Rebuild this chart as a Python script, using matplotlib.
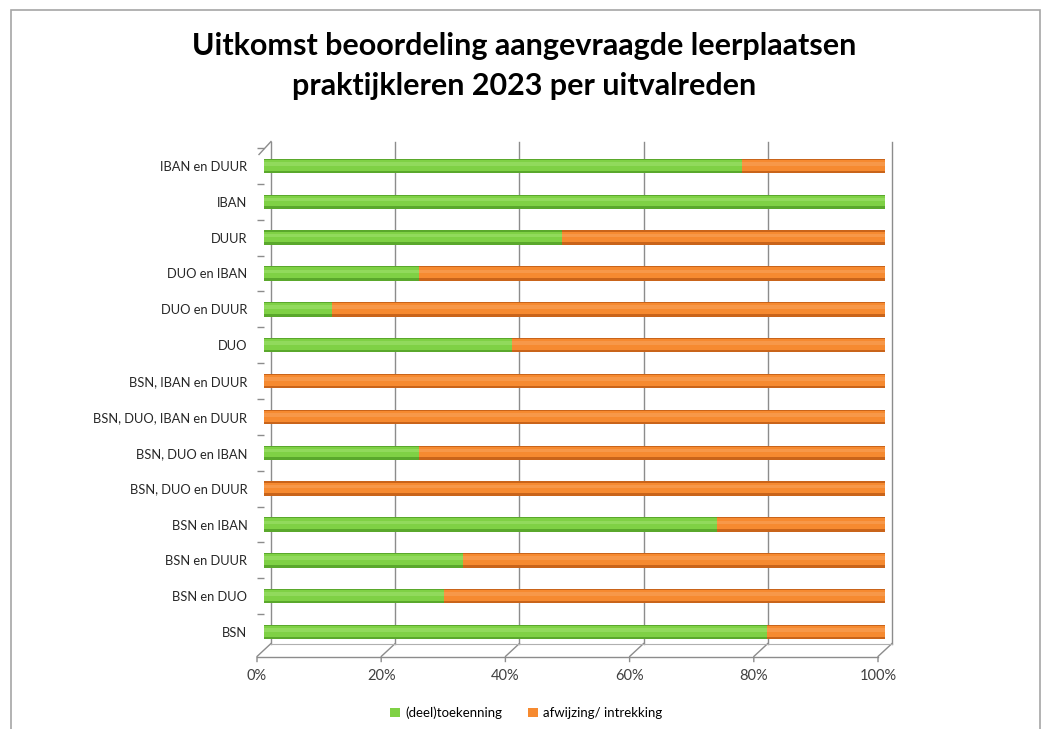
import matplotlib
matplotlib.use("Agg")
import matplotlib.pyplot as plt
import matplotlib.transforms as mtransforms
from matplotlib.patches import Patch, Rectangle

# gegevens, van boven naar beneden zoals in de grafiek
categorieen = ["IBAN en DUUR", "IBAN", "DUUR", "DUO en IBAN", "DUO en DUUR", "DUO",
               "BSN, IBAN en DUUR", "BSN, DUO, IBAN en DUUR", "BSN, DUO en IBAN",
               "BSN, DUO en DUUR", "BSN en IBAN", "BSN en DUUR", "BSN en DUO", "BSN"]
toekenning = [0.77, 1.00, 0.48, 0.25, 0.11, 0.40, 0.00, 0.00, 0.25, 0.00, 0.73, 0.32, 0.29, 0.81]
afwijzing = [0.23, 0.00, 0.52, 0.75, 0.89, 0.60, 1.00, 1.00, 0.75, 1.00, 0.27, 0.68, 0.71, 0.19]
xticks = [0, 0.2, 0.4, 0.6, 0.8, 1.0]
xlabels = ["0%", "20%", "40%", "60%", "80%", "100%"]

groen = ["#5aa82c", "#7fd145", "#a8e57a"]    # donker, midden, licht
oranje = ["#c9641a", "#f68a30", "#f9aa68"]

W, H = 1042, 729
fig = plt.figure(figsize=(W / 100, H / 100), dpi=100)
fig.patch.set_facecolor("white")

# kader om de grafiek
fig.patches.append(Rectangle((11 / W, -0.05), (1040 - 11) / W, 1.05 - 10 / H,
                             transform=fig.transFigure, fill=False,
                             edgecolor="#a6a6a6", lw=1.2))

ax = fig.add_axes([264 / W, 1 - 650 / H, (885 - 264) / W, (650 - 148) / H])
ax.set_xlim(0, 1)
ax.set_ylim(len(categorieen) - 0.5, -0.5)
ax.set_facecolor("none")

y = list(range(len(categorieen)))


def cilinder(left, width, kleuren):
    # simpele cilinder: donkere rand, middenkleur, lichte glans
    ax.barh(y, width, left=left, height=0.40, color=kleuren[0], zorder=3)
    ax.barh([v - 0.02 for v in y], width, left=left, height=0.30, color=kleuren[1], zorder=4)
    ax.barh([v - 0.06 for v in y], width, left=left, height=0.10, color=kleuren[2],
            alpha=0.45, zorder=5)


cilinder(0, toekenning, groen)
cilinder(toekenning, afwijzing, oranje)

# 3D-achtige wanden en vloer
dpi_t = fig.dpi_scale_trans
achter = mtransforms.ScaledTranslation(0.07, 0.065, dpi_t)
voor = mtransforms.ScaledTranslation(-0.07, -0.065, dpi_t)
xa = ax.get_xaxis_transform()
for xt in xticks:
    ax.plot([xt, xt], [0, 1], color="#8c8c8c", lw=1.0, transform=xa + achter,
            clip_on=False, zorder=1)
    # diagonaal van voorrand naar achterwand
    p0 = (xa + voor).transform((xt, 0))
    p1 = (xa + achter).transform((xt, 0))
    ax.plot([p0[0], p0[0], p1[0]], [p0[1] - 5, p0[1], p1[1]], color="#8c8c8c", lw=1.0,
            transform=None, clip_on=False, zorder=1)
ax.plot([0, 1], [0, 0], color="#8c8c8c", lw=1.0, transform=xa + voor, clip_on=False)
ax.plot([0, 1], [0, 0], color="#b0b0b0", lw=0.8, transform=xa + achter, clip_on=False)
# bovenrand linkerwand
q0 = (ax.transAxes + voor).transform((0, 1))
q1 = (ax.transAxes + achter).transform((0, 1))
ax.plot([q0[0] + 2, q1[0]], [q0[1], q1[1]], color="#8c8c8c", lw=1.0,
        transform=None, clip_on=False)

for s in ax.spines.values():
    s.set_visible(False)

ax.set_yticks(y)
ax.set_yticklabels(categorieen, fontsize=9.3, color="#262626", family="Lato")
ax.set_yticks([v + 0.5 for v in y[:-1]] + [-0.5], minor=True)
ax.tick_params(axis="y", which="major", length=0, pad=12)
ax.tick_params(axis="y", which="minor", length=5, color="#8c8c8c", width=1)

ax.set_xticks(xticks)
ax.set_xticklabels(xlabels, fontsize=10.5, color="#404040", family="Lato")
ax.tick_params(axis="x", length=0, pad=14)
for lab in ax.get_xticklabels():
    lab.set_transform(lab.get_transform() + mtransforms.ScaledTranslation(-0.07, 0, dpi_t))

fig.text(0.503, 1 - 46 / H, "Uitkomst beoordeling aangevraagde leerplaatsen",
         ha="center", va="center", fontsize=22, fontweight="bold", family="Lato",
         color="#000000")
fig.text(0.503, 1 - 86 / H, "praktijkleren 2023 per uitvalreden",
         ha="center", va="center", fontsize=22, fontweight="bold", family="Lato",
         color="#000000")

handles = [Patch(facecolor=groen[1], edgecolor="none", label="(deel)toekenning"),
           Patch(facecolor=oranje[1], edgecolor="none", label="afwijzing/ intrekking")]
fig.legend(handles=handles, loc="center", bbox_to_anchor=(0.505, 1 - 713 / H), ncol=2,
           frameon=False, handlelength=0.7, handleheight=0.7, handletextpad=0.4,
           columnspacing=2.0, prop={"family": "Lato", "size": 9.5})

fig.savefig("out.png", dpi=100)
